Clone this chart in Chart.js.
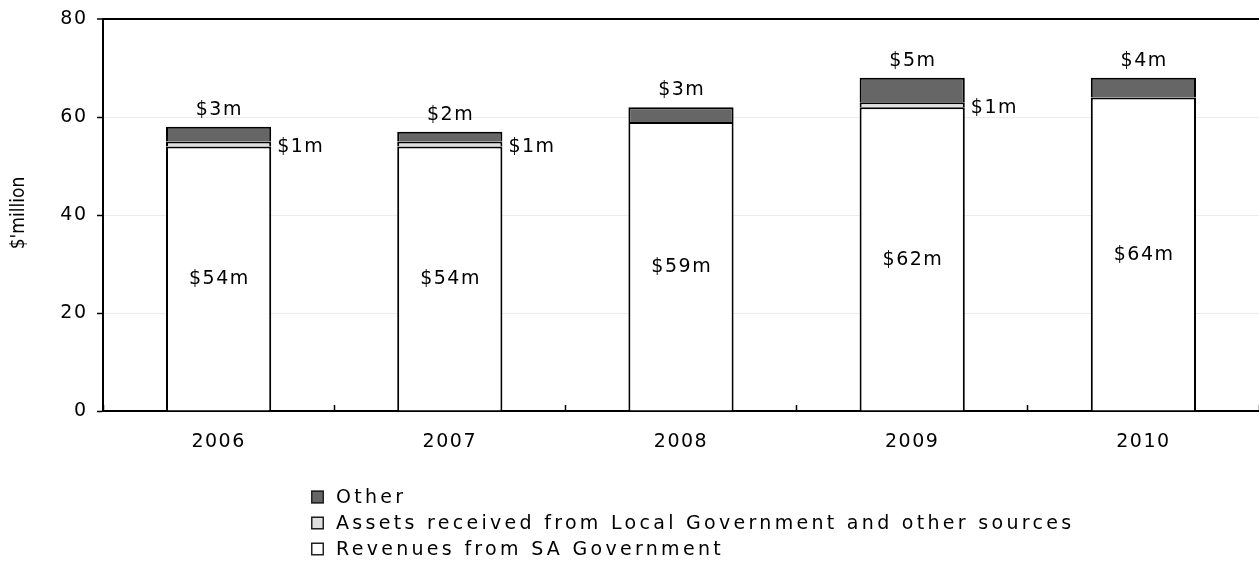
<!DOCTYPE html>
<html>
<head>
<meta charset="utf-8">
<script src="https://cdn.jsdelivr.net/npm/chart.js@4/dist/chart.umd.min.js"></script>
<style>
html,body{margin:0;padding:0;background:#ffffff;}
#wrap{width:1259px;height:572px;position:relative;}
</style>
</head>
<body>
<div id="wrap"><canvas id="c" width="1259" height="572"></canvas></div>
<script>
// ---- data ----
const years = ['2006', '2007', '2008', '2009', '2010'];
const revenuesSA = [54, 54, 59, 62, 64];
const assetsLocal = [1, 1, 0, 1, 0];
const otherRevenue = [3, 2, 3, 5, 4];
const seriesNames = ['Revenues from SA Government', 'Assets received from Local Government and other sources', 'Other'];
const yTickValues = [0, 20, 40, 60, 80];
const yTitle = "$'million";
const valueLabel = v => '$' + v + 'm';

// ---- style ----
const FONT = 'DejaVu Sans';
const LS = 1.5;          // letter spacing for axis / value labels
const LS_LEGEND = 3.3;   // letter spacing for legend text
const FS = 19;
const colors = ['#ffffff', '#e0e0e0', '#666666'];

Chart.defaults.font.family = FONT;
Chart.defaults.font.size = FS;
Chart.defaults.color = '#000';

const spacingPlugin = {
  id: 'spacing',
  beforeUpdate(chart) { chart.ctx.letterSpacing = LS + 'px'; },
  beforeLayout(chart) { chart.ctx.letterSpacing = LS + 'px'; },
  beforeDraw(chart) { chart.ctx.letterSpacing = LS + 'px'; }
};

const labelPlugin = {
  id: 'valueLabels',
  afterDatasetsDraw(chart) {
    const ctx = chart.ctx;
    ctx.save();
    ctx.letterSpacing = LS + 'px';
    ctx.font = FS + 'px "' + FONT + '"';
    ctx.fillStyle = '#000';
    ctx.textBaseline = 'middle';
    const mRev = chart.getDatasetMeta(0);
    const mAss = chart.getDatasetMeta(1);
    const mOth = chart.getDatasetMeta(2);
    years.forEach((y, i) => {
      const r = mRev.data[i];
      ctx.textAlign = 'center';
      ctx.fillText(valueLabel(revenuesSA[i]), r.x + LS / 2, (r.y + r.base) / 2 + 1);
      const o = mOth.data[i];
      ctx.fillText(valueLabel(otherRevenue[i]), o.x + LS / 2, o.y - 17);
      if (assetsLocal[i] > 0) {
        const a = mAss.data[i];
        ctx.textAlign = 'left';
        ctx.fillText(valueLabel(assetsLocal[i]), a.x + a.width / 2 + 6, (a.y + a.base) / 2 + 3);
      }
    });
    ctx.restore();
  }
};

const titleAndLegendPlugin = {
  id: 'titleAndLegend',
  afterDraw(chart) {
    const ctx = chart.ctx;
    const area = chart.chartArea;
    // y-axis title
    ctx.save();
    ctx.letterSpacing = '0px';
    ctx.font = '19px "DejaVu Sans Condensed", "' + FONT + '"';
    ctx.fillStyle = '#000';
    ctx.textAlign = 'center';
    ctx.textBaseline = 'middle';
    ctx.translate(19, (area.top + area.bottom) / 2 - 2);
    ctx.rotate(-Math.PI / 2);
    ctx.fillText(yTitle, 0, 0);
    ctx.restore();
    // legend
    ctx.save();
    ctx.letterSpacing = LS_LEGEND + 'px';
    ctx.font = FS + 'px "' + FONT + '"';
    ctx.textBaseline = 'middle';
    ctx.textAlign = 'left';
    const order = [2, 1, 0];
    const x0 = 311, y0 = 497, step = 26, box = 13;
    order.forEach((d, k) => {
      const yc = y0 + k * step;
      ctx.fillStyle = colors[d];
      ctx.fillRect(x0, yc - box / 2, box, box);
      ctx.lineWidth = 1.5;
      ctx.strokeStyle = '#222';
      ctx.strokeRect(x0 + 0.75, yc - box / 2 + 0.75, box - 1.5, box - 1.5);
      ctx.fillStyle = '#000';
      ctx.fillText(seriesNames[d], x0 + 25, yc + 1);
    });
    ctx.restore();
  }
};

const datasets = [revenuesSA, assetsLocal, otherRevenue].map((vals, d) => ({
  label: seriesNames[d],
  data: vals,
  backgroundColor: colors[d],
  borderColor: '#000',
  borderWidth: 2,
  borderSkipped: 'start',
  categoryPercentage: 1,
  barPercentage: 0.455
}));

new Chart(document.getElementById('c'), {
  type: 'bar',
  data: { labels: years, datasets: datasets },
  plugins: [spacingPlugin, labelPlugin, titleAndLegendPlugin],
  options: {
    responsive: false,
    devicePixelRatio: 1,
    animation: false,
    layout: { padding: { top: 16, right: 0, left: 0, bottom: 0 } },
    plugins: { legend: { display: false }, tooltip: { enabled: false } },
    scales: {
      x: {
        stacked: true,
        grid: { offset: true, drawOnChartArea: false, drawTicks: true, tickLength: -6, tickColor: '#000', tickWidth: 1.5 },
        border: { color: '#000', width: 2 },
        ticks: { padding: 26, color: '#000', font: { size: FS } },
        afterFit: s => { s.height = 161; }
      },
      y: {
        stacked: true,
        min: 0,
        max: 80,
        afterBuildTicks: s => { s.ticks = yTickValues.map(v => ({ value: v })); },
        ticks: { padding: 9.5, color: '#000', font: { size: FS, lineHeight: 1 } },
        grid: {
          color: c => (c.tick && c.tick.value === 80) ? '#000' : '#ebebeb',
          lineWidth: c => (c.tick && c.tick.value === 80) ? 2 : 1,
          tickColor: '#000',
          tickLength: 6,
          tickWidth: 1.5
        },
        border: { color: '#000', width: 2 },
        title: { display: false, text: yTitle },
        afterFit: s => { s.width = 103; }
      }
    }
  }
});
</script>
</body>
</html>
